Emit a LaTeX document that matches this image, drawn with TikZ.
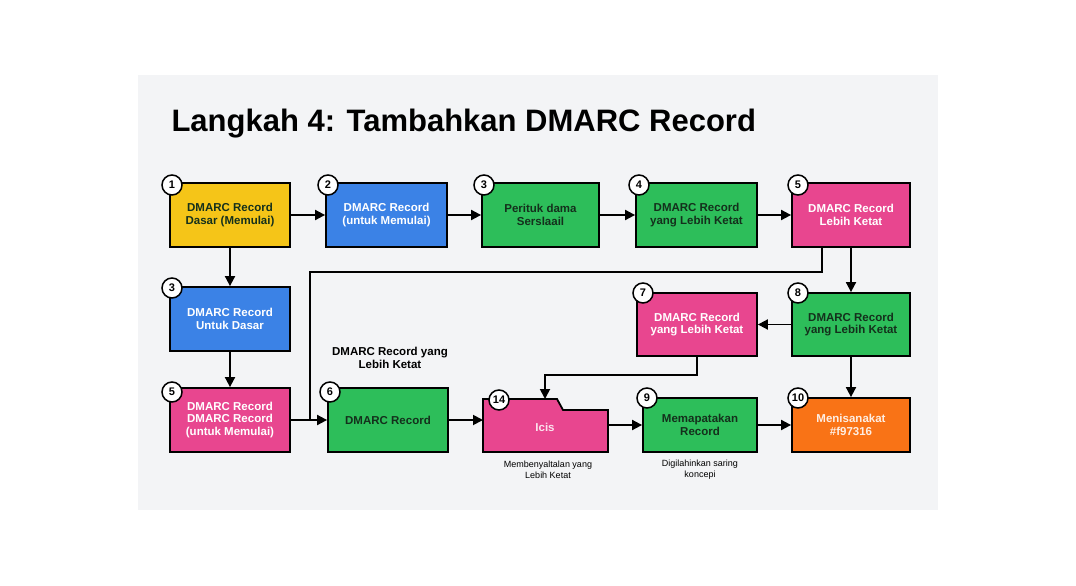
\documentclass[tikz,border=0pt]{standalone}
\usepackage{fontspec}
\setmainfont{Liberation Sans}
\usetikzlibrary{arrows.meta}
\definecolor{bg}{HTML}{F3F4F6}
\definecolor{cy}{HTML}{F5C518}
\definecolor{cb}{HTML}{3B82E6}
\definecolor{cg}{HTML}{2DBE5A}
\definecolor{cp}{HTML}{E8468F}
\definecolor{co}{HTML}{F97316}
\definecolor{dk}{HTML}{14301C}
\begin{document}
\begin{tikzpicture}[x=1pt,y=-1pt,
 box/.style={draw=black,line width=1.8pt,align=center,font=\bfseries\fontsize{11.5}{12.5}\selectfont,inner sep=0pt},
 badge/.style={circle,draw=black,fill=white,line width=1.5pt,minimum size=20pt,inner sep=0pt,font=\bfseries\fontsize{11}{12}\selectfont},
 arr/.style={-{Triangle[length=10pt,width=10pt]},line width=1.8pt},
 ln/.style={line width=1.8pt},
 captxt/.style={align=center,font=\fontsize{9}{11}\selectfont}]
\useasboundingbox (0,0) rectangle (1076,586);
\fill[white] (0,0) rectangle (1076,586);
\fill[bg] (138,75) rectangle (938,510);
\node[anchor=west,font=\bfseries\fontsize{31}{34}\selectfont] (title) at (168,124) {Langkah 4: Tambahkan DMARC Record};
% row 1
\node[box,fill=cy,text=dk,minimum width=120pt,minimum height=64pt] (b1) at (230,215) {DMARC Record\\Dasar (Memulai)};
\node[box,fill=cb,text=white,minimum width=121pt,minimum height=64pt] (b2) at (386.5,215) {DMARC Record\\(untuk Memulai)};
\node[box,fill=cg,text=dk,minimum width=117pt,minimum height=64pt] (b3) at (540.5,215) {Perituk dama\\Serslaail};
\node[box,fill=cg,text=dk,minimum width=121pt,minimum height=64pt] (b4) at (696.5,215) {DMARC Record\\yang Lebih Ketat};
\node[box,fill=cp,text=white,minimum width=118pt,minimum height=64pt] (b5) at (851,215) {DMARC Record\\Lebih Ketat};
% row 2
\node[box,fill=cb,text=white,minimum width=120pt,minimum height=64pt] (b3b) at (230,319) {DMARC Record\\Untuk Dasar};
\node[box,fill=cp,text=white,minimum width=120pt,minimum height=63pt] (b7) at (697,324.5) {DMARC Record\\yang Lebih Ketat};
\node[box,fill=cg,text=dk,minimum width=118pt,minimum height=63pt] (b8) at (851,324.5) {DMARC Record\\yang Lebih Ketat};
% row 3
\node[box,fill=cp,text=white,minimum width=120pt,minimum height=64pt] (b5b) at (230,420) {DMARC Record\\DMARC Record\\(untuk Memulai)};
\node[box,fill=cg,text=dk,minimum width=120pt,minimum height=64pt] (b6) at (388,420) {DMARC Record};
\draw[fill=cp,line width=1.8pt] (483,452) -- (483,399) -- (557,399) -- (563,410) -- (608,410) -- (608,452) -- cycle;
\node[font=\bfseries\fontsize{11.5}{12.5}\selectfont,text=white!85!cp] (b14) at (545,427) {Icis};
\coordinate (f14top) at (545,399);
\coordinate (f14l) at (483,420);
\coordinate (f14r) at (608,425);
\node[box,fill=cg,text=dk,minimum width=114pt,minimum height=54pt] (b9) at (700,425) {Memapatakan\\Record};
\node[box,fill=co,text=white!88!co,minimum width=118pt,minimum height=54pt] (b10) at (851,425) {Menisanakat\\\#f97316};
% badges
\node[badge] (n1) at (172,185) {1};
\node[badge] (n2) at (328,185) {2};
\node[badge] (n3) at (484,185) {3};
\node[badge] (n4) at (639,185) {4};
\node[badge] (n5) at (798,185) {5};
\node[badge] (n3b) at (172,288) {3};
\node[badge] (n7) at (643,293) {7};
\node[badge] (n8) at (798,293) {8};
\node[badge] (n5b) at (172,392) {5};
\node[badge] (n6) at (330,392) {6};
\node[badge] (n14) at (499,400) {14};
\node[badge] (n9) at (647,398) {9};
\node[badge] (n10) at (798,398) {10};
% labels
\node[font=\bfseries\fontsize{11.5}{13}\selectfont,align=center] (lab) at (390,358) {DMARC Record yang\\Lebih Ketat};
\node[captxt] (c14) at (548,470) {Membenyaltalan yang\\Lebih Ketat};
\node[captxt] (c9) at (700,470) {Digilahinkan saring\\koncepi};
% connectors
\draw[arr] (b1) -- (b2);
\draw[arr] (b2) -- (b3);
\draw[arr] (b3) -- (b4);
\draw[arr] (b4) -- (b5);
\draw[arr] (b1) -- (b3b);
\draw[arr] (b3b) -- (b5b);
\draw[arr] (b5b) -- (b6);
\draw[ln] (b5.south -| 822,0) -- (822,272) -- (310,272) -- (310,420);
\draw[arr] (b5) -- (b8);
\draw[arr] (b8) -- (b7);
\draw[arr] (b8) -- (b10);
\draw[arr] (b7.south) -- (697,375) -- (545,375) -- (f14top);
\draw[arr] (b6.east) -- (f14l);
\draw[arr] (f14r) -- (b9.west);
\draw[arr] (b9) -- (b10);
\end{tikzpicture}
\end{document}
